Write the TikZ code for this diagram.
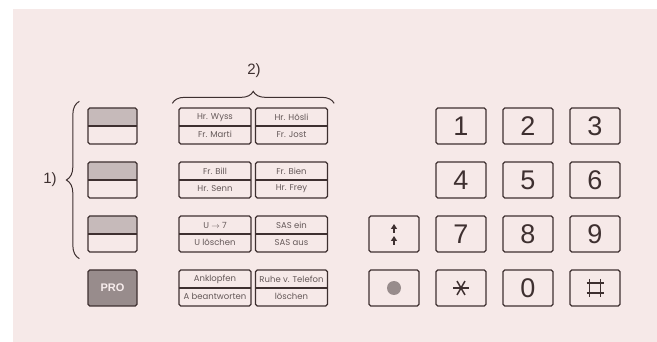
\documentclass[tikz,border=0pt]{standalone}
\usepackage{fontspec}
\setmainfont{Liberation Sans}
\newfontfamily\keyfont{Poppins}
\usetikzlibrary{calc,arrows.meta,decorations.pathreplacing}

\definecolor{paper}{RGB}{246,233,232}
\definecolor{ink}{RGB}{62,48,48}
\definecolor{dots}{RGB}{198,186,186}
\definecolor{darkdots}{RGB}{152,140,140}
\definecolor{lbl}{RGB}{100,88,88}

\tikzset{
  key/.style={draw=ink, line width=1.3pt, rounded corners=1.8pt, minimum height=36pt, inner sep=0pt},
  numkey/.style={key, minimum width=50pt, text=ink, font=\fontsize{27}{27}\selectfont},
  linekey/.style={key, minimum width=49pt,
    path picture={\fill[dots] (path picture bounding box.north west) rectangle (path picture bounding box.east);
      \draw[ink, line width=1.3pt] (path picture bounding box.west) -- (path picture bounding box.east);}},
  prokey/.style={key, minimum width=49pt, fill=darkdots, text=paper!80!white, font=\fontsize{11}{11}\bfseries\selectfont},
  namekey/.style={key, minimum width=72pt,
    path picture={\draw[ink, line width=1.3pt] (path picture bounding box.west) -- (path picture bounding box.east);}},
  toptext/.style={text=lbl, font=\keyfont\fontsize{8.5}{8.5}\selectfont, yshift=8.5pt},
  bottext/.style={toptext, yshift=-17pt},
  bracetext/.style={text=ink, font=\fontsize{15}{15}\selectfont},
}

\begin{document}
\begin{tikzpicture}[x=1pt, y=-1pt]
  \useasboundingbox (0,0) rectangle (657,342);
  \fill[paper] (13,9) rectangle (657,342);

  % line keys
  \foreach \r/\y in {1/126, 2/180, 3/234}
    \node[linekey] (l\r) at (112.5,\y) {};
  \node[prokey] (pro) at (112.5,288) {PRO};

  % name keys
  \foreach \n/\x/\y/\a/\b in {a1/215/126/Hr. Wyss/Fr. Marti, b1/291.5/126/Hr. Hösli/Fr. Jost,
      a2/215/180/Fr. Bill/Hr. Senn, b2/291.5/180/Fr. Bien/Hr. Frey,
      a3/215/234/U $\rightarrow$ 7/U löschen, b3/291.5/234/SAS ein/SAS aus,
      a4/215/288/Anklopfen/A beantworten, b4/291.5/288/Ruhe v. Telefon/löschen}
    \node[namekey, label={[toptext]center:\a}, label={[bottext]center:\b}] (\n) at (\x,\y) {};

  % dial pad
  \foreach \n/\x/\y in {1/461/126, 2/528/126, 3/595/126, 4/461/180, 5/528/180, 6/595/180,
      7/461/234, 8/528/234, 9/595/234, 0/528/288}
    \node[numkey] (k\n) at (\x,\y) {\n};
  \node[numkey] (kstar) at (461,288) {};
  \node[numkey] (khash) at (595,288) {};
  \node[numkey] (kup) at (394,234) {};
  \node[numkey] (kdot) at (394,288) {};

  \draw[ink, line width=1.3pt, -{Triangle[length=5pt,width=6pt]}] ($(kup.center)+(0,-1)$) -- ($(kup.center)+(0,-10)$);
  \draw[ink, line width=1.3pt, -{Triangle[length=5pt,width=6pt]}] ($(kup.center)+(0,11)$) -- ($(kup.center)+(0,2)$);
  \fill[darkdots] (kdot.center) circle (7pt);
  \foreach \a in {0,60,120}
    \draw[ink, line width=1.5pt] ([shift={(\a:8pt)}]kstar.center) -- ([shift={(\a+180:8pt)}]kstar.center);
  \draw[ink, line width=1.5pt]
    ($(khash.center)+(-5.5,-9)$) -- ($(khash.center)+(-5.5,9)$)
    ($(khash.center)+(5.5,-9)$) -- ($(khash.center)+(5.5,9)$)
    ($(khash.center)+(-8.5,-5)$) -- ($(khash.center)+(8.5,-5)$)
    ($(khash.center)+(-8.5,5)$) -- ($(khash.center)+(8.5,5)$);

  % braces
  \draw[ink, line width=1pt, decorate, decoration={brace, amplitude=13pt}]
    ($(l3.south west)+(-8,6)$) -- ($(l1.north west)+(-8,-6)$);
  \node[bracetext] (lab1) at (50,180) {1)};
  \draw[ink, line width=1pt, decorate, decoration={brace, amplitude=12pt}]
    ($(a1.north west)+(-6,-4)$) -- ($(b1.north east)+(6,-4)$);
  \node[bracetext] (lab2) at (254,71) {2)};
\end{tikzpicture}
\end{document}
